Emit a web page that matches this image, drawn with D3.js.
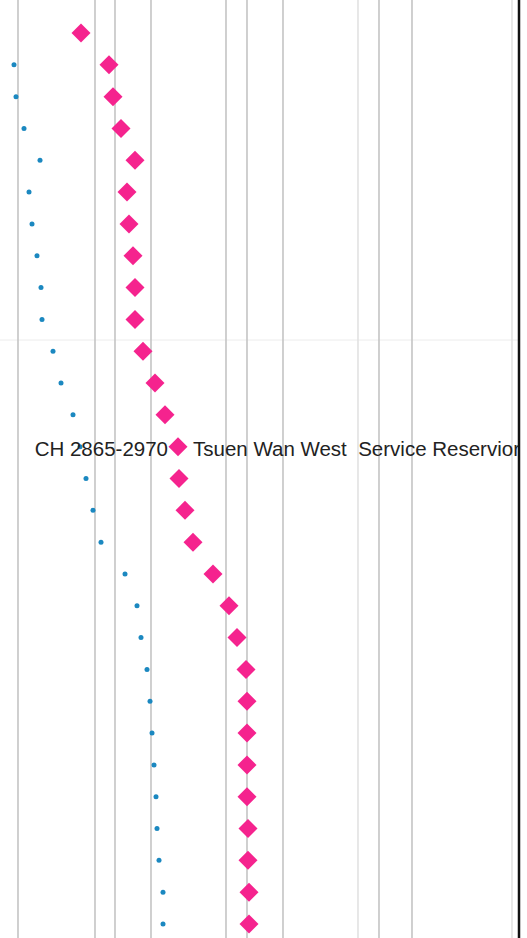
<!DOCTYPE html>
<html>
<head>
<meta charset="utf-8">
<script src="https://cdn.jsdelivr.net/npm/d3@7"></script>
<style>
  body { margin: 0; background: #fff; overflow: hidden; }
  svg { display: block; }
  text { white-space: pre; }
</style>
</head>
<body>
<div id="chart"></div>
<script>
// rows top to bottom, one per chainage section
const rows = d3.range(29);
// pink diamond series (x units)
const diamondValues = [63, 91, 95, 103, 117, 109, 111, 115, 117, 117, 125, 137, 147, 160, 161, 167, 175, 195, 211, 219, 228, 229, 229, 229, 229, 230, 230, 231, 231];
// blue dot series (x units), first one falls off the chart
const dotValues = [null, -4, -2, 6, 22, 11, 14, 19, 23, 24, 35, 43, 55, 62, 68, 75, 83, 107, 119, 123, 129, 132, 134, 136, 138, 139, 141, 145, 145];
// vertical gridlines (x units)
const gridValues = [0, 77, 97, 133, 208, 229, 265, 340, 361, 394, 494];
const faintGrid = [340, 494];
const labelRow = 13;
const labelLeft = "CH 2865-2970";
const labelRight = "Tsuen Wan West  Service Reservior";

const width = 527, height = 938;

const svg = d3.select("#chart")
  .append("svg")
  .attr("width", width)
  .attr("height", height);

const x = d3.scaleLinear()
  .domain([0, 500])
  .range([18, 518]);

const y = d3.scalePoint()
  .domain(rows)
  .range([33, 924]);

// faint horizontal line
svg.append("line")
  .attr("x1", 0).attr("x2", x(500))
  .attr("y1", 340).attr("y2", 340)
  .attr("stroke", "#ececec")
  .attr("stroke-width", 1);

// gridlines
svg.append("g")
  .selectAll("line")
  .data(gridValues)
  .join("line")
  .attr("x1", d => x(d)).attr("x2", d => x(d))
  .attr("y1", 0).attr("y2", height)
  .attr("stroke", d => faintGrid.includes(d) ? "#e2e2e2" : "#c4c4c4")
  .attr("stroke-width", 1.6);

// blue dots
svg.append("g")
  .selectAll("circle")
  .data(rows.filter(i => dotValues[i] !== null))
  .join("circle")
  .attr("cx", i => x(dotValues[i]))
  .attr("cy", i => y(i))
  .attr("r", 2.5)
  .attr("fill", "#1b88c0");

// labels
const labelY = y(labelRow) + 9.5;
svg.append("text")
  .attr("x", x(diamondValues[labelRow]) - 10)
  .attr("y", labelY)
  .attr("text-anchor", "end")
  .attr("font-family", "Liberation Sans, Arial, sans-serif")
  .attr("font-size", 20.5)
  .attr("fill", "#222")
  .text(labelLeft);

svg.append("text")
  .attr("x", x(diamondValues[labelRow]) + 15)
  .attr("y", labelY)
  .attr("font-family", "Liberation Sans, Arial, sans-serif")
  .attr("font-size", 20.5)
  .attr("fill", "#222")
  .text(labelRight);

// pink diamonds
const diamond = d3.symbol(d3.symbolSquare, 180);
svg.append("g")
  .selectAll("path")
  .data(rows)
  .join("path")
  .attr("d", diamond)
  .attr("transform", i => `translate(${x(diamondValues[i])},${y(i)}) rotate(45)`)
  .attr("fill", "#f5238e");

// white out past the border, then the border itself
svg.append("rect")
  .attr("x", x(501)).attr("y", 0)
  .attr("width", width).attr("height", height)
  .attr("fill", "#fff");

svg.append("line")
  .attr("x1", x(501)).attr("x2", x(501))
  .attr("y1", 0).attr("y2", height)
  .attr("stroke", "#111")
  .attr("stroke-width", 2.5);
</script>
</body>
</html>
